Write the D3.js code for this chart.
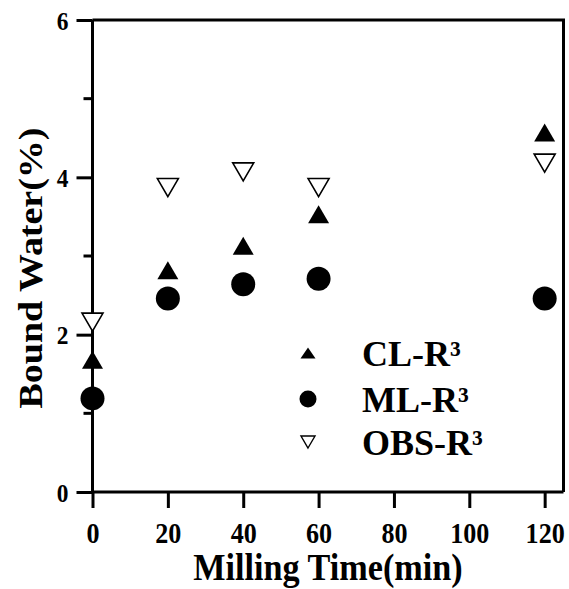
<!DOCTYPE html>
<html>
<head>
<meta charset="utf-8">
<script src="https://cdn.jsdelivr.net/npm/d3@7/dist/d3.min.js"></script>
<style>
  html, body { margin: 0; padding: 0; background: #fff; }
  svg { display: block; }
  text { font-family: "Liberation Serif", "Times New Roman", serif; font-weight: bold; fill: #000; }
</style>
</head>
<body>
<svg id="chart" width="569" height="589"></svg>
<script>
// Milling time (min) and bound water (%) for each sample series
const millingTime = [0, 20, 40, 60, 120];
const clR3  = [1.68, 2.82, 3.13, 3.53, 4.57];
const mlR3  = [1.19, 2.46, 2.64, 2.71, 2.46];
const obsR3 = [2.16, 3.87, 4.07, 3.87, 4.18];

const seriesNames = ["CL-R\u00B3", "ML-R\u00B3", "OBS-R\u00B3"];
const xTicks = [0, 20, 40, 60, 80, 100, 120];
const yTicks = [0, 2, 4, 6];
const yMinorTicks = [1, 3, 5];

const svg = d3.select("#chart");
const plotLeft = 92.5, plotRight = 563.5, plotTop = 20, plotBottom = 492;
const TEXT_SQUEEZE = 0.9;
const FONT = '"Liberation Serif", "Times New Roman", serif';

const x = d3.scaleLinear().domain([0, 125]).range([plotLeft, plotRight]);
const y = d3.scaleLinear().domain([0, 6]).range([plotBottom, plotTop]);

// frame: top and right borders
svg.append("path")
  .attr("d", `M${plotLeft},${plotTop}H${plotRight}V${plotBottom}`)
  .attr("fill", "none").attr("stroke", "#000").attr("stroke-width", 3);

// y axis: major + minor ticks
const yAxis = svg.append("g").attr("transform", `translate(${plotLeft},0)`)
  .call(d3.axisLeft(y).tickValues(yTicks).tickSize(16).tickFormat(d3.format("d")));
yAxis.append("g").selectAll("line").data(yMinorTicks).join("line")
  .attr("x1", -9).attr("x2", 0).attr("y1", d => y(d)).attr("y2", d => y(d));

// x axis
const xAxis = svg.append("g").attr("transform", `translate(0,${plotBottom})`)
  .call(d3.axisBottom(x).tickValues(xTicks).tickSize(16).tickFormat(d3.format("d")));

[yAxis, xAxis].forEach(a => {
  a.attr("font-family", null).attr("font-size", null);
  a.select(".domain").attr("stroke", "#000").attr("stroke-width", 3);
  a.selectAll("line").attr("stroke", "#000").attr("stroke-width", 3);
  a.selectAll(".tick text")
    .style("font-family", FONT).style("font-weight", "bold").style("fill", "#000")
    .attr("fill", "#000");
});
// straight axis lines without end caps
yAxis.select(".domain").attr("d", `M0,${plotBottom}V${plotTop}`);
xAxis.select(".domain").attr("d", `M${plotLeft},0H${plotRight}`);

yAxis.selectAll(".tick text")
  .style("font-size", "26px").attr("x", null).attr("dy", null)
  .attr("text-anchor", "end")
  .attr("transform", `translate(-24,9) scale(${TEXT_SQUEEZE},1)`);
xAxis.selectAll(".tick text")
  .style("font-size", "29px").attr("y", null).attr("dy", null)
  .attr("text-anchor", "middle")
  .attr("transform", `translate(0,51) scale(${TEXT_SQUEEZE},1)`);

// axis titles
svg.append("text")
  .attr("font-size", 38).attr("text-anchor", "middle")
  .attr("transform", `translate(${(plotLeft + plotRight) / 2},580) scale(${TEXT_SQUEEZE},1)`)
  .text("Milling Time(min)");
svg.append("text")
  .attr("font-size", 38).attr("text-anchor", "middle")
  .attr("transform", `translate(42,268) rotate(-90) scale(1,${TEXT_SQUEEZE})`)
  .text("Bound Water(%)");

// marker shapes (centred on their bounding box)
function upTri(w, h) { return `M0,${-h / 2}L${w / 2},${h / 2}L${-w / 2},${h / 2}Z`; }
function downTri(w, h) { return `M0,${h / 2}L${w / 2},${-h / 2}L${-w / 2},${-h / 2}Z`; }

const plot = svg.append("g");
plot.selectAll(".cl").data(millingTime).join("path")
  .attr("d", upTri(21, 18))
  .attr("transform", (d, i) => `translate(${x(d)},${y(clR3[i])})`)
  .attr("fill", "#000");
plot.selectAll(".ml").data(millingTime).join("circle")
  .attr("cx", d => x(d)).attr("cy", (d, i) => y(mlR3[i])).attr("r", 12)
  .attr("fill", "#000");
plot.selectAll(".obs").data(millingTime).join("path")
  .attr("d", downTri(21, 18))
  .attr("transform", (d, i) => `translate(${x(d)},${y(obsR3[i])})`)
  .attr("fill", "#fff").attr("stroke", "#000").attr("stroke-width", 1.6);

// legend
const legend = svg.append("g");
const rowY = [353, 399, 442];
legend.append("path").attr("d", upTri(15, 11))
  .attr("transform", `translate(308,${rowY[0]})`).attr("fill", "#000");
legend.append("circle").attr("cx", 308).attr("cy", rowY[1]).attr("r", 8.5).attr("fill", "#000");
legend.append("path").attr("d", downTri(14, 12))
  .attr("transform", `translate(308,${rowY[2]})`)
  .attr("fill", "#fff").attr("stroke", "#000").attr("stroke-width", 1.4);
legend.selectAll("text").data(seriesNames).join("text")
  .attr("font-size", 36)
  .attr("x", 362).attr("y", (d, i) => rowY[i] + 13)
  .text(d => d);
</script>
</body>
</html>
